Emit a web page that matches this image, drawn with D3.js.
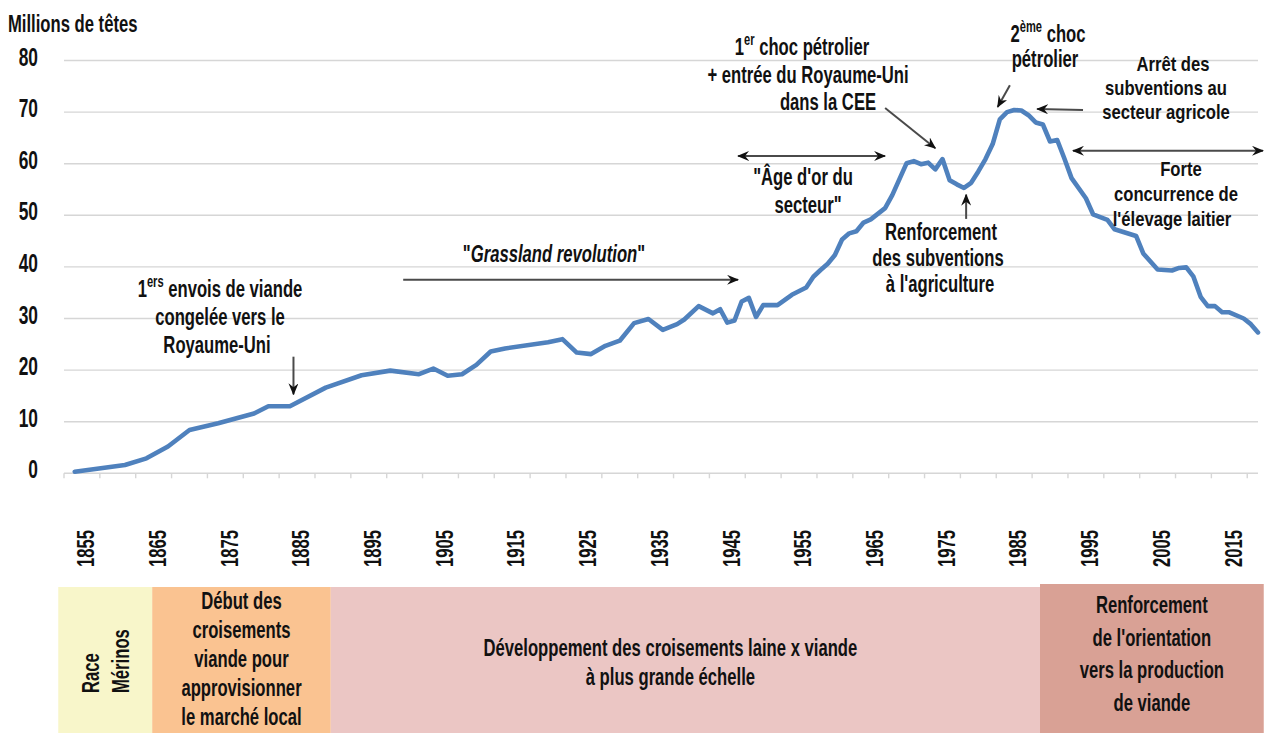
<!DOCTYPE html>
<html>
<head>
<meta charset="utf-8">
<title>Cheptel ovin</title>
<script src="https://d3js.org/d3.v7.min.js"></script>
<style>
  body { margin: 0; background: #fff; }
  text { font-family: "Liberation Sans Narrow", "Liberation Sans", Arial, sans-serif; font-weight: bold; fill: #111; white-space: pre; }
</style>
</head>
<body>
<div id="chart"></div>
<script>
// ---- données (millions de têtes) ----
const years = [1853, 1860, 1863, 1866, 1869, 1873, 1878, 1880, 1883, 1888, 1893, 1897,
  1901, 1903, 1905, 1907, 1909, 1911, 1913, 1919, 1921, 1923, 1925, 1927, 1929, 1931,
  1933, 1935, 1937, 1938, 1940, 1942, 1943, 1944, 1945, 1946, 1947, 1948, 1949, 1951,
  1953, 1955, 1956, 1957, 1958, 1959, 1960, 1961, 1962, 1963, 1964, 1966, 1967, 1969,
  1970, 1971, 1972, 1973, 1974, 1975, 1976, 1977, 1978, 1979, 1980, 1981, 1982, 1983,
  1984, 1985, 1986, 1987, 1988, 1989, 1990, 1991, 1992, 1994, 1995, 1997, 1998, 2001,
  2002, 2004, 2006, 2007, 2008, 2009, 2010, 2011, 2012, 2013, 2014, 2016, 2017, 2018];
const heads = [0.3, 1.6, 2.9, 5.2, 8.4, 9.7, 11.6, 13.0, 13.0, 16.6, 19.0, 19.9,
  19.2, 20.3, 18.9, 19.2, 21.0, 23.6, 24.2, 25.4, 26.0, 23.4, 23.1, 24.7, 25.7, 29.1,
  29.9, 27.8, 28.9, 29.8, 32.4, 31.0, 31.8, 29.2, 29.6, 33.3, 34.0, 30.3, 32.6, 32.6,
  34.6, 36.0, 38.1, 39.4, 40.6, 42.3, 45.3, 46.5, 46.9, 48.6, 49.2, 51.4, 53.9, 60.1,
  60.5, 59.9, 60.2, 58.9, 60.9, 56.8, 56.0, 55.3, 56.3, 58.5, 60.9, 63.8, 68.6, 70.0,
  70.4, 70.3, 69.4, 68.0, 67.6, 64.3, 64.6, 61.0, 57.2, 53.3, 50.2, 49.1, 47.3, 46.0,
  42.6, 39.5, 39.3, 39.8, 39.9, 38.1, 34.2, 32.4, 32.4, 31.2, 31.2, 30.0, 28.9, 27.3];

const yTicks = [0, 10, 20, 30, 40, 50, 60, 70, 80];
const yearLabels = d3.range(1855, 2016, 10);
const tickYears = d3.range(1852, 2018, 5);

// périodes du bandeau inférieur
const periodStart = [1851.2, 1864.3, 1889.2, 1988.1];
const periodEnd = [1864.3, 1889.2, 1988.1, 2019.3];
const periodText = [
  ["Race", "Mérinos"],
  ["Début des", "croisements", "viande pour", "approvisionner", "le marché local"],
  ["Développement des croisements laine x viande", "à plus grande échelle"],
  ["Renforcement", "de l'orientation", "vers la production", "de viande"]
];
const periodColors = ["#f8f6ca", "#fac391", "#ebc6c4", "#d9a195"];

// flèches : [année, valeur] -> [année, valeur]
const arrows = [
  {from: [1884, 22.6], to: [1884, 15.3]},
  {from: [1899.3, 37.5], to: [1946.0, 37.5]},
  {from: [1946.0, 61.5], to: [1966.5, 61.5], both: true},
  {from: [1966.5, 70.8], to: [1973.5, 63.0]},
  {from: [1983.9, 75.2], to: [1982.2, 71.0]},
  {from: [1994.1, 70.4], to: [1987.7, 70.6]},
  {from: [1992.7, 62.5], to: [2019.2, 62.5], both: true},
  {from: [1977.8, 49.3], to: [1977.8, 54.0]}
];

const W = 1264, H = 733;
const svg = d3.select("#chart").append("svg").attr("width", W).attr("height", H);

// échelles
const x = d3.scaleLinear().domain([1852, 2018.5]).range([64, 1258]);
const y = d3.scaleLinear().domain([0, 80]).range([473.3, 60.5]);
const half = 0.5; // les points sont au centre de chaque catégorie annuelle

// compression horizontale pour imiter la police condensée
const probe = svg.append("text").style("font-size", "24px").text("Renforcement");
const k = 112 / probe.node().getComputedTextLength();
probe.remove();

function put(px, py, parts, o = {}) {
  const size = o.size || 24;
  // o.flat : police plus petite mais même largeur (blocs serrés)
  const sx = o.flat ? k * 24 / size : k;
  const g = svg.append("g")
    .attr("transform", "translate(" + px + "," + py + ")" + (o.rot ? " rotate(-90)" : "") + " scale(" + sx + ",1)");
  const t = g.append("text")
    .attr("text-anchor", o.anchor || "middle")
    .style("font-size", size + "px");
  if (o.dy) t.attr("dy", o.dy);
  let up = false;
  [].concat(parts).forEach(function(p) {
    const s = typeof p === "string" ? p : p[0];
    const kind = typeof p === "string" ? "n" : p[1];
    const ts = t.append("tspan").text(s);
    if (kind === "s") { ts.style("font-size", "16px").attr("dy", -10); up = true; }
    else if (up) { ts.attr("dy", 10); up = false; }
    if (kind === "i") ts.style("font-style", "italic");
  });
  return g;
}

// grille
svg.append("g").selectAll("line")
  .data(yTicks)
  .enter().append("line")
  .attr("x1", x.range()[0]).attr("x2", x.range()[1])
  .attr("y1", d => y(d)).attr("y2", d => y(d))
  .attr("stroke", "#d6d6d6").attr("stroke-width", 1.4);

// graduations de l'axe x
svg.append("g").selectAll("line")
  .data(tickYears)
  .enter().append("line")
  .attr("x1", d => x(d)).attr("x2", d => x(d))
  .attr("y1", y(0)).attr("y2", y(0) + 5)
  .attr("stroke", "#d6d6d6").attr("stroke-width", 1.4);

// étiquettes y
yTicks.forEach(v => put(38, y(v) + 5, String(v), {anchor: "end", size: 25}));
put(8, 32, "Millions de têtes", {anchor: "start", size: 24});

// étiquettes x (verticales)
yearLabels.forEach(yr => put(x(yr), 530, String(yr), {anchor: "end", rot: true, dy: "0.36em", size: 24}));

// courbe
const line = d3.line()
  .x((d, i) => x(years[i] + half))
  .y(d => y(d));
svg.append("path")
  .attr("d", line(heads))
  .attr("fill", "none")
  .attr("stroke", "#4f81bd")
  .attr("stroke-width", 4.6)
  .attr("stroke-linejoin", "round")
  .attr("stroke-linecap", "round");

// flèches
const defs = svg.append("defs");
defs.append("marker")
  .attr("id", "ah")
  .attr("viewBox", "0 0 12 10")
  .attr("refX", 11).attr("refY", 5)
  .attr("markerWidth", 12).attr("markerHeight", 10)
  .attr("markerUnits", "userSpaceOnUse")
  .attr("orient", "auto-start-reverse")
  .append("path")
  .attr("d", "M0,0 L12,5 L0,10 L4,5 Z")
  .attr("fill", "#111");

svg.append("g").selectAll("line")
  .data(arrows)
  .enter().append("line")
  .attr("x1", d => x(d.from[0])).attr("y1", d => y(d.from[1]))
  .attr("x2", d => x(d.to[0])).attr("y2", d => y(d.to[1]))
  .attr("stroke", "#4a4a4a").attr("stroke-width", 2)
  .attr("marker-end", "url(#ah)")
  .attr("marker-start", d => d.both ? "url(#ah)" : null);

// annotations
put(220, 297, ["1", ["ers", "s"], " envois de viande"]);
put(220, 325, "congelée vers le");
put(217, 353, "Royaume-Uni");

put(554, 262, ['"', ["Grassland revolution", "i"], '"']);

put(802, 55, ["1", ["er", "s"], " choc pétrolier"]);
put(808, 83, "+ entrée du Royaume-Uni");
put(828, 110, "dans la CEE");

put(803, 185, "\"Âge d'or du");
put(808, 213, "secteur\"");

put(941, 240, "Renforcement");
put(938, 266, "des subventions");
put(940, 292, "à l'agriculture");

put(1048, 42, ["2", ["ème", "s"], " choc"]);
put(1045, 67, "pétrolier");

put(1173, 71, "Arrêt des", {size: 21, flat: true});
put(1166, 95, "subventions au", {size: 21, flat: true});
put(1166, 119, "secteur agricole", {size: 21, flat: true});

put(1181, 176, "Forte", {size: 21, flat: true});
put(1176, 201, "concurrence de", {size: 21, flat: true});
put(1172, 226, "l'élevage laitier", {size: 21, flat: true});

// bandeau des périodes
const bandTop = [587, 587, 587, 584];
svg.append("g").selectAll("rect")
  .data(periodStart)
  .enter().append("rect")
  .attr("x", d => x(d))
  .attr("width", (d, i) => x(periodEnd[i]) - x(d))
  .attr("y", (d, i) => bandTop[i])
  .attr("height", (d, i) => H - bandTop[i])
  .attr("fill", (d, i) => periodColors[i]);

// Race Mérinos (vertical)
const mid0 = (x(periodStart[0]) + x(periodEnd[0])) / 2;
put(mid0 - 15, 693, periodText[0][0], {anchor: "start", rot: true, dy: "0.36em"});
put(mid0 + 15, 693, periodText[0][1], {anchor: "start", rot: true, dy: "0.36em"});

const bandLayout = [null, {first: 609, step: 29, dx: 0}, {first: 656, step: 29, dx: -15}, {first: 613, step: 32.5, dx: 0}];
for (let i = 1; i < 4; i++) {
  const cx = (x(periodStart[i]) + x(periodEnd[i])) / 2 + bandLayout[i].dx;
  periodText[i].forEach((s, j) => put(cx, bandLayout[i].first + j * bandLayout[i].step, s));
}
</script>
</body>
</html>
